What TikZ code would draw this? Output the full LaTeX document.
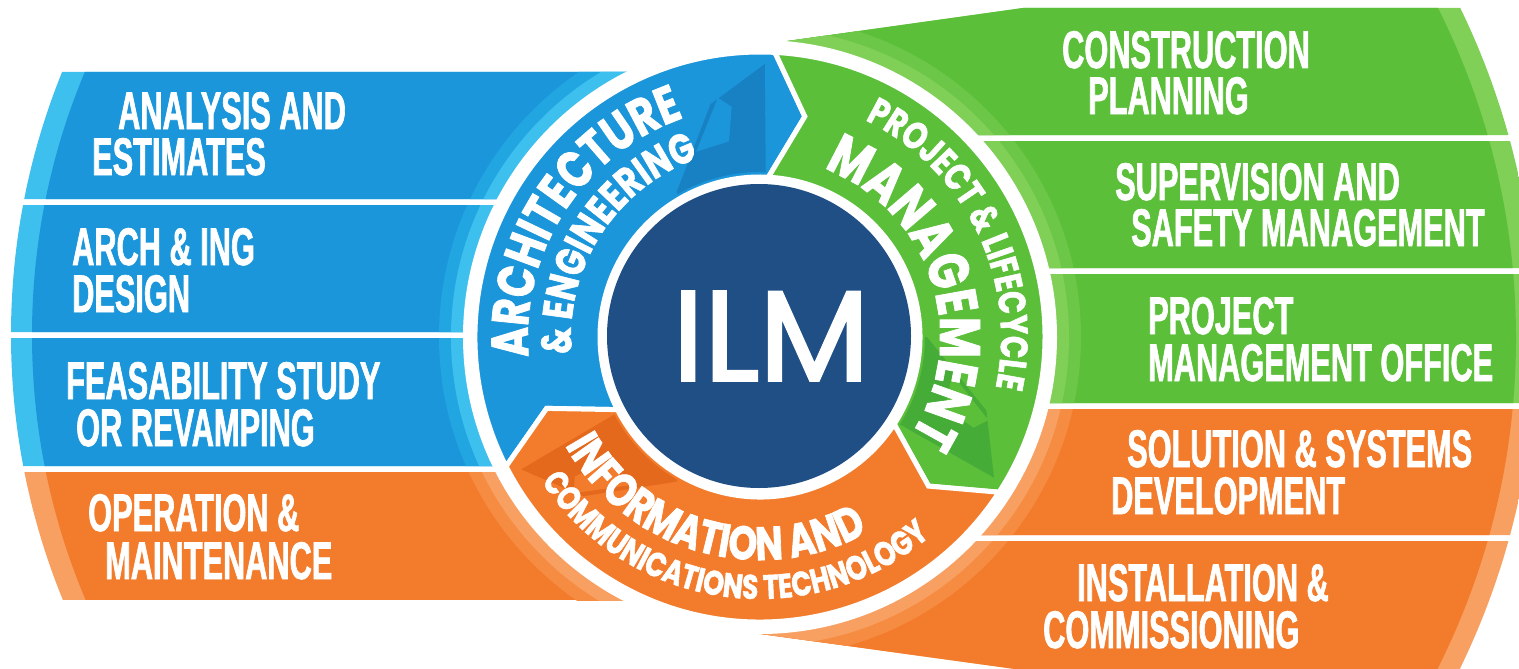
\documentclass[tikz,border=0pt]{standalone}
\usepackage{fontspec}
\usetikzlibrary{decorations.text}
\newfontfamily\bandfont[FakeStretch=0.58,FakeBold=1.2]{Liberation Sans}
\newfontfamily\ringfont[FakeStretch=0.78,FakeBold=1.4]{Poppins}
\newfontfamily\ilmfont[FakeBold=2]{Poppins}
\definecolor{bandblue}{HTML}{1C96DA}
\definecolor{bandbluelt}{HTML}{3EC0EE}
\definecolor{bandbluemd}{HTML}{22A6E1}
\definecolor{bandorange}{HTML}{F37C2C}
\definecolor{bandorangelt}{HTML}{F8A062}
\definecolor{bandorangemd}{HTML}{F58C41}
\definecolor{bandgreen}{HTML}{5BBF3A}
\definecolor{bandgreenlt}{HTML}{80CF57}
\definecolor{bandgreenmd}{HTML}{6CC748}
\definecolor{ilmblue}{HTML}{1F4F85}
\definecolor{blueshade}{HTML}{1781C3}
\definecolor{orangeshade}{HTML}{E4691D}
\definecolor{greenshade}{HTML}{46AC38}
\newcommand\rfA{\ringfont\bfseries\fontsize{52}{52}\selectfont}
\newcommand\rfB{\ringfont\bfseries\fontsize{42}{42}\selectfont}
\newcommand\rfC{\ringfont\bfseries\fontsize{38}{38}\selectfont}
\newcommand\rfD{\ringfont\bfseries\fontsize{57}{57}\selectfont}
\newcommand\rfE{\ringfont\bfseries\fontsize{47}{47}\selectfont}
\newcommand\rfF{\ringfont\bfseries\fontsize{34}{34}\selectfont}
\def\bluebandsL{(0,72) rectangle (761,199) (0,205) rectangle (761,332) (0,338) rectangle (761,466)}
\def\orangebandL{(0,472) rectangle (761,600)}
\def\greenbandsR{(761,44.7) -- (1023,8) -- (1519,8) -- (1519,135) -- (761,135) -- cycle (761,141) rectangle (1519,268) (761,274) rectangle (1519,403)}
\def\orangebandsR{(761,409) rectangle (1519,535) (761,541) -- (1519,541) -- (1519,669) -- (1015,669) -- (761,634) -- cycle}
\tikzset{
  bandL/.style={font=\bandfont\bfseries\fontsize{53}{53}\selectfont, text=white, inner sep=0, anchor=base west},
  bandR/.style={font=\bandfont\bfseries\fontsize{53}{53}\selectfont, text=white, inner sep=0, anchor=base west},
  segment/.style={draw=white, line width=5, line join=miter},
  ringtext/.style={decorate, decoration={text along path, text align=center, text color=white, text={#1}}}
}
\begin{document}
\begin{tikzpicture}[x=1pt,y=-1pt]
\useasboundingbox (0,0) rectangle (1519,669);
% ---- bands, outer light edge
\begin{scope}
  \clip (711,335) circle[radius=700];
  \fill[bandbluelt] \bluebandsL;
  \fill[bandorangelt] \orangebandL;
\end{scope}
\begin{scope}
  \clip (711,335) circle[radius=679];
  \fill[bandblue] \bluebandsL;
  \fill[bandorange] \orangebandL;
\end{scope}
\begin{scope}
  \clip (781,338) circle[radius=755];
  \fill[bandgreenlt] \greenbandsR;
  \fill[bandorangelt] \orangebandsR;
\end{scope}
\begin{scope}
  \clip (781,338) circle[radius=735];
  \fill[bandgreen] \greenbandsR;
  \fill[bandorange] \orangebandsR;
\end{scope}
% ---- halo around the ring
\begin{scope}
  \clip \bluebandsL;
  \fill[bandbluemd] (760,337) circle[radius=321];
  \fill[bandbluelt] (760,337) circle[radius=309];
\end{scope}
\begin{scope}
  \clip \orangebandL;
  \fill[bandorangemd] (760,337) circle[radius=321];
  \fill[bandorangelt] (760,337) circle[radius=309];
\end{scope}
\begin{scope}
  \clip \greenbandsR;
  \fill[bandgreenmd] (760,337) circle[radius=321];
  \fill[bandgreenlt] (760,337) circle[radius=309];
\end{scope}
\begin{scope}
  \clip \orangebandsR;
  \fill[bandorangemd] (760,337) circle[radius=321];
  \fill[bandorangelt] (760,337) circle[radius=309];
\end{scope}
\fill[white] (760,337) circle[radius=297];
% ---- ring segments
\begin{scope}[shift={(760,337)}]
  \fill[bandblue, segment]
    (153:285) arc[start angle=153, end angle=273, radius=285] -- (281.5:225) -- (273:160)
    arc[start angle=273, end angle=153, radius=160] -- (161.5:225) -- cycle;
  \fill[bandgreen, segment]
    (273:285) arc[start angle=273, end angle=393, radius=285] -- (401.5:225) -- (393:160)
    arc[start angle=393, end angle=273, radius=160] -- (281.5:225) -- cycle;
  \fill[bandorange, segment]
    (33:285) arc[start angle=33, end angle=153, radius=285] -- (161.5:225) -- (153:160)
    arc[start angle=153, end angle=33, radius=160] -- (41.5:225) -- cycle;
  % shaded arrow marks
  \foreach \e/\sh/\base in {273/blueshade/bandblue, 393/greenshade/bandgreen, 153/orangeshade/bandorange}{
    \fill[\sh] ({\e-33}:167) -- ({\e-15}:238) -- ({\e-2}:273) -- ({\e-1}:165)
      arc[start angle={\e-1}, end angle={\e-33}, radius=165] -- cycle;
    \fill[\base] ({\e-22}:196) -- ({\e-13}:243) -- ({\e-10}:232) -- ({\e-12}:198) -- cycle;
  }
  % ring texts
  \path[ringtext={|\rfA|ARCHITECTURE}] (133:232) arc[start angle=133, end angle=293, radius=232];
  \path[ringtext={|\rfB|{\&} ENGINEERING}] (133:189) arc[start angle=133, end angle=293, radius=189];
  \path[ringtext={|\rfC|PROJECT {\&} LIFECYCLE}] (254:241) arc[start angle=254, end angle=414, radius=241];
  \path[ringtext={|\rfD|MANAGEMENT}] (262:180) arc[start angle=262, end angle=422, radius=180];
  \path[ringtext={|\rfE|INFORMATION AND}] (186:223) arc[start angle=186, end angle=26, radius=223];
  \path[ringtext={|\rfF|COMMUNICATIONS TECHNOLOGY}] (178:262) arc[start angle=178, end angle=18, radius=262];
\end{scope}
% ---- centre
\node[circle, fill=ilmblue, minimum size=304, inner sep=0] (ilm) at (759,336) {};
\node[text=white, font=\ilmfont\fontsize{128}{128}\selectfont, inner sep=0] (ilmtxt) at (771,336) {ILM};
% ---- band texts, left
\node[bandL] (b1a) at (118,129) {ANALYSIS AND};
\node[bandL] (b1b) at (92,175) {ESTIMATES};
\node[bandL] (b2a) at (72,265) {ARCH \& ING};
\node[bandL] (b2b) at (72,312) {DESIGN};
\node[bandL] (b3a) at (66,399) {FEASABILITY STUDY};
\node[bandL] (b3b) at (76,446) {OR REVAMPING};
\node[bandL] (b4a) at (88,531) {OPERATION \&};
\node[bandL] (b4b) at (105,579) {MAINTENANCE};
% ---- band texts, right
\node[bandR] (g1a) at (1062,68) {CONSTRUCTION};
\node[bandR] (g1b) at (1088,114) {PLANNING};
\node[bandR] (g2a) at (1115,200) {SUPERVISION AND};
\node[bandR] (g2b) at (1131,246) {SAFETY MANAGEMENT};
\node[bandR] (g3a) at (1148,334) {PROJECT};
\node[bandR] (g3b) at (1148,381) {MANAGEMENT OFFICE};
\node[bandR] (o1a) at (1127,467) {SOLUTION \& SYSTEMS};
\node[bandR] (o1b) at (1111,514) {DEVELOPMENT};
\node[bandR] (o2a) at (1077,601) {INSTALLATION \&};
\node[bandR] (o2b) at (1043,648) {COMMISSIONING};
\end{tikzpicture}
\end{document}
